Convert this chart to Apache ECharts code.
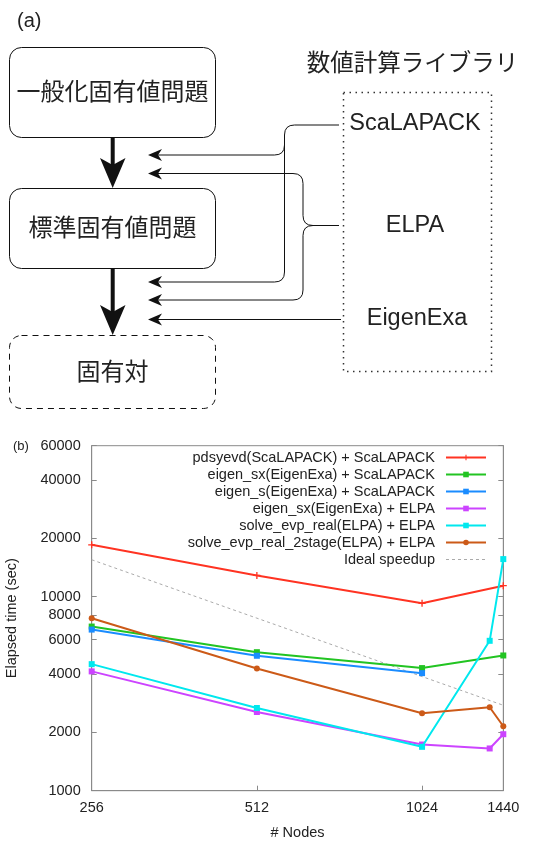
<!DOCTYPE html>
<html><head><meta charset="utf-8">
<script src="https://cdn.jsdelivr.net/npm/echarts@6/dist/echarts.min.js"></script>
<style>html,body{margin:0;padding:0;background:#fff}#c{width:550px;height:841px}</style>
</head><body><div id="c"></div>
<script>
// ---- data ----
const nodes = [256, 512, 1024, 1360, 1440];
const seriesNames = [
  'pdsyevd(ScaLAPACK) + ScaLAPACK',
  'eigen_sx(EigenExa) + ScaLAPACK',
  'eigen_s(EigenExa) + ScaLAPACK',
  'eigen_sx(EigenExa) + ELPA',
  'solve_evp_real(ELPA) + ELPA',
  'solve_evp_real_2stage(ELPA) + ELPA',
  'Ideal speedup'
];
const pdsyevdScaLAPACK   = [18500, 12870, 9240, null, 11390];
const eigenSxScaLAPACK   = [7015, 5175, 4285, null, 4977];
const eigenSScaLAPACK    = [6767, 4960, 4036, null, null];
const eigenSxELPA        = [4120, 2545, 1730, 1651, 1955];
const solveEvpRealELPA   = [4490, 2668, 1683, 5923, 15620];
const solveEvp2stageELPA = [7737, 4268, 2506, 2692, 2149];
const idealSpeedup       = [15500, 7750, 3875, null, 2756];
const xTickValues = [256, 512, 1024, 1440];
const yTickValues = [1000, 2000, 4000, 6000, 8000, 10000, 20000, 40000, 60000];

const diagramBoxes = ['一般化固有値問題', '標準固有値問題', '固有対'];
const libraryTitle = '数値計算ライブラリ';
const libraries = ['ScaLAPACK', 'ELPA', 'EigenExa'];

// ---- helpers ----
function pairs(vals) {
  const out = [];
  vals.forEach((v, i) => { if (v != null) out.push([nodes[i], v]); });
  return out;
}
const FONT = '"Liberation Sans", Arial, sans-serif';
const CJK = '"Noto Sans CJK JP", sans-serif';
const colors = ['#ff3322', '#22c422', '#1a8cff', '#cc44ff', '#00e8ee', '#cc5a18', '#aaaaaa'];
const plusPath = 'path://M3,0h1.4v3h3v1.4h-3v3h-1.4v-3h-3v-1.4h3z';
const symbols = [plusPath, 'rect', 'rect', 'rect', 'rect', 'circle', 'none'];
const symbolSizes = [7, 6, 6, 6, 6, 6, 0];
const seriesData = [pdsyevdScaLAPACK, eigenSxScaLAPACK, eigenSScaLAPACK, eigenSxELPA, solveEvpRealELPA, solveEvp2stageELPA, idealSpeedup];

const series = seriesData.map((d, i) => ({
  name: seriesNames[i],
  type: 'line',
  data: pairs(d),
  connectNulls: true,
  symbol: symbols[i],
  symbolSize: symbolSizes[i],
  showSymbol: i < 6,
  color: colors[i],
  lineStyle: i < 6 ? { width: 2, color: colors[i] } : { width: 1, color: colors[i], type: [3, 3] },
  itemStyle: { color: colors[i] },
  z: i === 6 ? 1 : 2 + i,
  animation: false
}));

// ---- diagram graphics ----
const g = [];
const black = '#111';
function line(x1, y1, x2, y2, w) {
  g.push({ type: 'line', shape: { x1, y1, x2, y2 }, style: { stroke: black, lineWidth: w || 1 }, silent: true });
}
function curve(x1, y1, cx, cy, x2, y2) {
  g.push({ type: 'bezierCurve', shape: { x1, y1, x2, y2, cpx1: cx, cpy1: cy }, style: { stroke: black, lineWidth: 1, fill: null }, silent: true });
}
function arrowLeft(x, y) {
  g.push({ type: 'polygon', shape: { points: [[x, y], [x + 14, y - 6], [x + 10, y], [x + 14, y + 6]] }, style: { fill: black }, silent: true });
}
function text(t, x, y, size, fam, align) {
  g.push({ type: 'text', style: { text: t, x, y, fontSize: size, fontFamily: fam, fill: '#222', align: align || 'center', verticalAlign: 'middle' }, silent: true });
}
// panel labels
text('(a)', 17, 21, 20, FONT, 'left');
text('(b)', 13, 446, 13, FONT, 'left');
// boxes
g.push({ type: 'rect', shape: { x: 9.5, y: 47.5, width: 206, height: 90, r: 12 }, style: { fill: '#fff', stroke: black, lineWidth: 1 } });
g.push({ type: 'rect', shape: { x: 9.5, y: 188.5, width: 206, height: 80, r: 12 }, style: { fill: '#fff', stroke: black, lineWidth: 1 } });
g.push({ type: 'rect', shape: { x: 9.5, y: 335.5, width: 206, height: 73, r: 12 }, style: { fill: '#fff', stroke: black, lineWidth: 1, lineDash: [6, 5] } });
text(diagramBoxes[0], 112.5, 91, 24, CJK);
text(diagramBoxes[1], 112.5, 227, 24, CJK);
text(diagramBoxes[2], 112.5, 371, 24, CJK);
// thick arrows
line(112.7, 137.5, 112.7, 170, 4);
g.push({ type: 'polygon', shape: { points: [[112.7, 188], [125.5, 158], [112.7, 165], [100, 158]] }, style: { fill: black } });
line(112.7, 268.5, 112.7, 318, 4);
g.push({ type: 'polygon', shape: { points: [[112.7, 335], [125.5, 305], [112.7, 312], [100, 305]] }, style: { fill: black } });
// library frame
g.push({ type: 'rect', shape: { x: 343.5, y: 92.5, width: 148, height: 279 }, style: { fill: null, stroke: '#333', lineWidth: 1.5, lineDash: [1.5, 4.5] } });
text(libraryTitle, 412.5, 62, 23.5, CJK);
text(libraries[0], 415, 124, 23.5, FONT);
text(libraries[1], 415, 226, 23.5, FONT);
text(libraries[2], 417, 319, 23.5, FONT);
// ScaLAPACK connectors
line(339, 125, 294.5, 125);
curve(294.5, 125, 284.5, 125, 284.5, 135);
line(284.5, 135, 284.5, 272);
curve(284.5, 272, 284.5, 282, 274.5, 282);
line(274.5, 282, 155, 282);
curve(284.5, 145, 284.5, 155, 274.5, 155);
line(274.5, 155, 155, 155);
arrowLeft(148, 155); arrowLeft(148, 282);
// ELPA connectors
line(339, 225.5, 313, 225.5);
curve(313, 225.5, 303, 225.5, 303, 215.5);
line(303, 215.5, 303, 183.5);
curve(303, 183.5, 303, 173.5, 293, 173.5);
line(293, 173.5, 155, 173.5);
curve(313, 225.5, 303, 225.5, 303, 235.5);
line(303, 235.5, 303, 290);
curve(303, 290, 303, 300, 293, 300);
line(293, 300, 155, 300);
arrowLeft(148, 173.5); arrowLeft(148, 300);
// EigenExa connector
line(341, 319.5, 155, 319.5);
arrowLeft(148, 319.5);

const legendData = seriesNames.map((n, i) => i < 6 ? { name: n } : { name: n, itemStyle: { opacity: 0 }, lineStyle: { width: 1 } });

const chart = echarts.init(document.getElementById('c'), null, { renderer: 'canvas' });
chart.setOption({
  animation: false,
  backgroundColor: '#fff',
  textStyle: { fontFamily: FONT },
  grid: { left: 91.7, right: 46.7, top: 445.7, bottom: 50.3, show: true, borderColor: '#8a8a8a', borderWidth: 1, backgroundColor: 'transparent', containLabel: false, outerBoundsMode: 'none' },
  graphic: g,
  legend: {
    orient: 'vertical',
    right: 63,
    top: 450,
    padding: 0,
    align: 'right',
    itemWidth: 40,
    itemHeight: 7,
    itemGap: 2,
    data: legendData,
    textStyle: { fontSize: 14.5, color: '#222', fontFamily: FONT, padding: [0, 6, 0, 0] },
    selectedMode: false
  },
  xAxis: {
    type: 'log', logBase: 2, min: 256, max: 1440,
    name: '# Nodes', nameLocation: 'middle', nameGap: 35,
    nameTextStyle: { fontSize: 14.5, color: '#222', fontFamily: FONT },
    axisLine: { lineStyle: { color: '#8a8a8a' } },
    axisTick: { inside: true, length: 5, customValues: xTickValues, lineStyle: { color: '#8a8a8a' } },
    axisLabel: { customValues: xTickValues, fontSize: 14.5, color: '#222', margin: 10, formatter: v => String(Math.round(v)) },
    splitLine: { show: false }, minorTick: { show: false }
  },
  yAxis: [{
    type: 'log', logBase: 10, min: 1000, max: 60000,
    name: 'Elapsed time (sec)', nameLocation: 'middle', nameGap: 72,
    nameTextStyle: { fontSize: 14.5, color: '#222', fontFamily: FONT },
    axisLine: { show: true, lineStyle: { color: '#8a8a8a' } },
    axisTick: { show: true, inside: true, length: 5, customValues: yTickValues, lineStyle: { color: '#8a8a8a' } },
    axisLabel: { customValues: yTickValues, fontSize: 14.5, color: '#222', margin: 11, formatter: v => String(Math.round(v)) },
    splitLine: { show: false }
  }, {
    type: 'log', logBase: 10, min: 1000, max: 60000, position: 'right',
    axisLine: { show: true, lineStyle: { color: '#8a8a8a' } },
    axisTick: { show: true, inside: true, length: 5, customValues: yTickValues, lineStyle: { color: '#8a8a8a' } },
    axisLabel: { show: false, customValues: yTickValues },
    splitLine: { show: false }
  }],
  series: series
});
</script>
</body></html>
